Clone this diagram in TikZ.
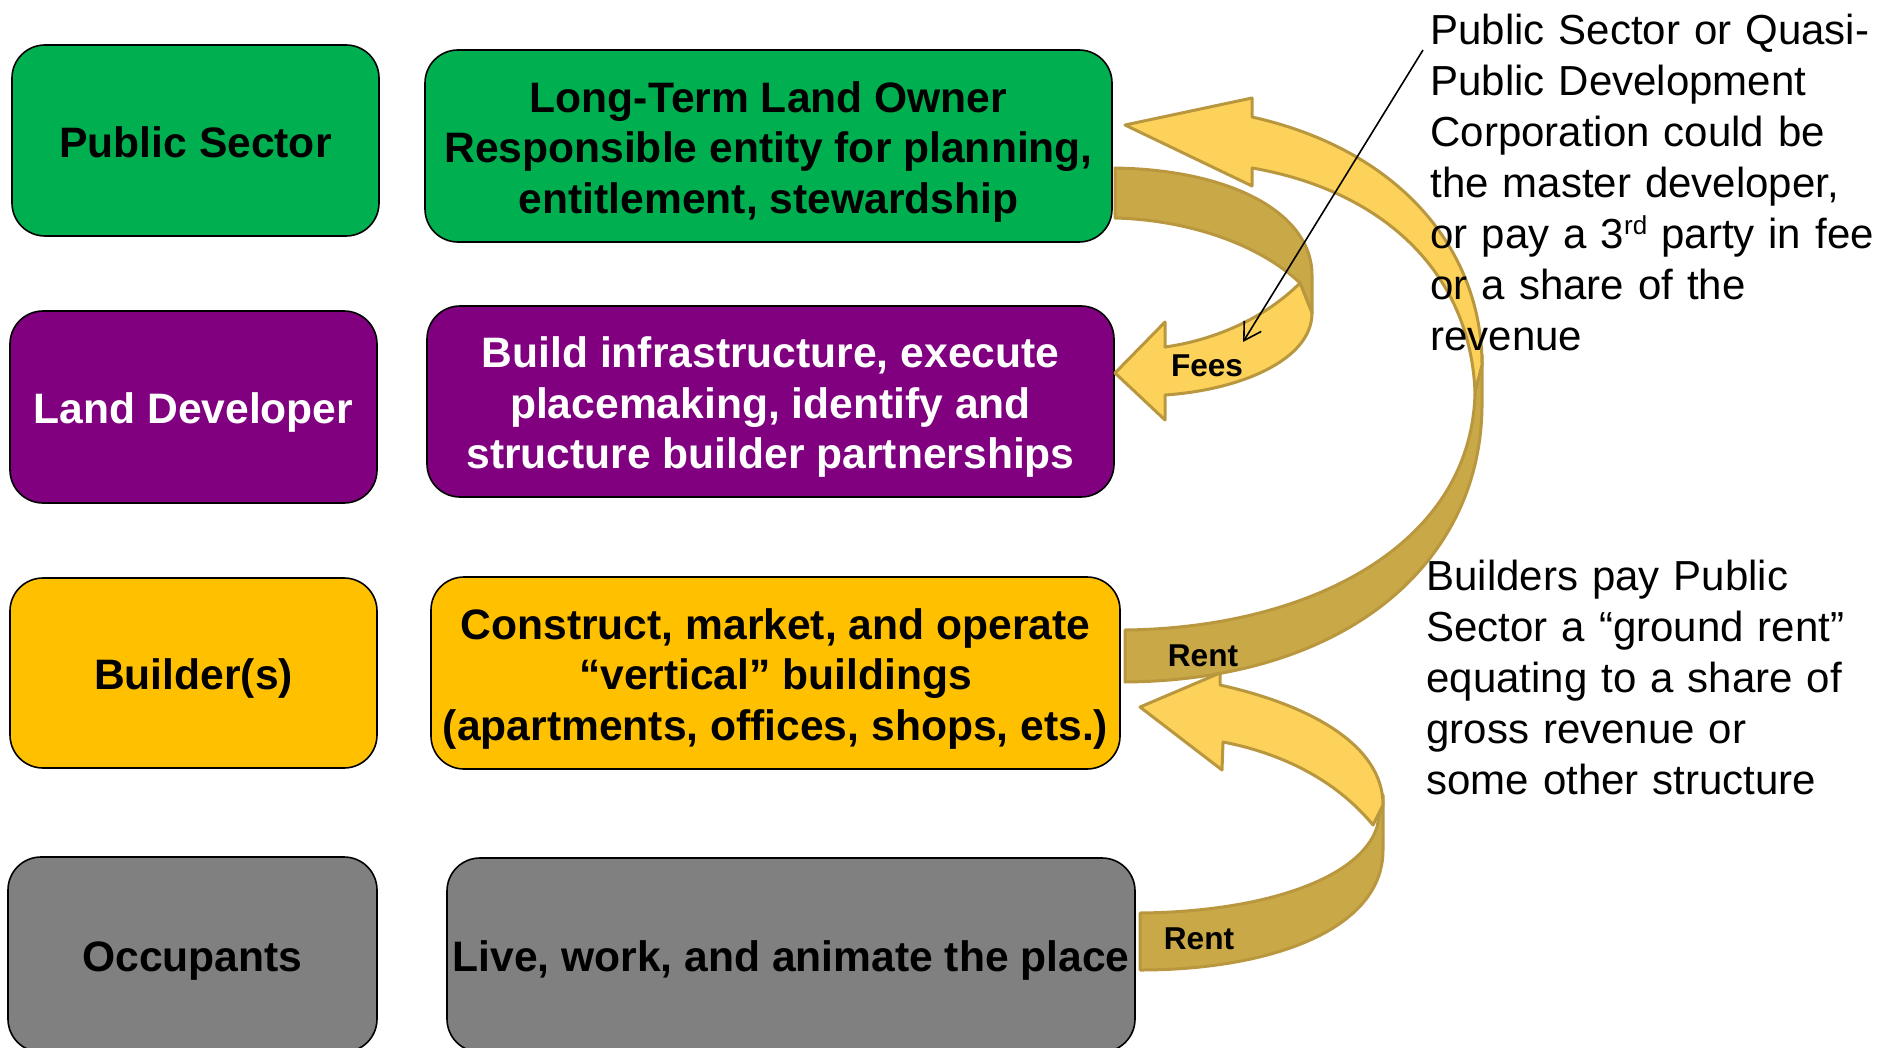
\documentclass[tikz,border=0pt]{standalone}
\usepackage{fontspec}
\setmainfont{Liberation Sans}
\usetikzlibrary{arrows.meta}

\definecolor{psgreen}{HTML}{00B050}
\definecolor{ldpurple}{HTML}{800080}
\definecolor{bsgold}{HTML}{FFC000}
\definecolor{ocgray}{HTML}{808080}
\definecolor{arrowlight}{HTML}{FDD25A}
\definecolor{arrowdark}{HTML}{C9A848}
\definecolor{arrowedge}{HTML}{B9973E}

% three centred lines, baseline on the last one
\newcommand{\stacklines}[1]{\parbox[b]{340pt}{\centering #1}}
% small raised ordinal suffix
\newcommand{\ordsuffix}[1]{\raisebox{0.34em}{\fontsize{13}{13}\selectfont #1}}

\begin{document}
\begin{tikzpicture}[x=0.5pt,y=-0.5pt,
  rolebox/.style={draw=black, line width=0.8pt, rounded corners=16.5pt, inner sep=0pt,
    font=\fontsize{21.3}{25.2}\selectfont\bfseries, text height=21.3pt, text depth=4.5pt},
  threelines/.style={text height=71.7pt},
  bandback/.style={fill=arrowdark, draw=arrowedge, line width=1.5pt, line join=round},
  bandfront/.style={fill=arrowlight, draw=arrowedge, line width=1.5pt, line join=round},
  flowlabel/.style={font=\fontsize{15.8}{18}\selectfont\bfseries, inner sep=0pt},
  note/.style={font=\fontsize{21}{25.5}\selectfont, align=left, text width=240pt,
    inner sep=0pt, anchor=base west}
]
\useasboundingbox (0,0) rectangle (1877,1048);
\clip (0,0) rectangle (1877,1048);

% role boxes (left column) and responsibilities (middle column)
\node[rolebox, fill=psgreen, minimum width=183.5pt, minimum height=95.5pt] (ps) at (195.5,140.5) {Public Sector};
\node[rolebox, threelines, fill=psgreen, minimum width=343.5pt, minimum height=96pt] (lto) at (768.5,146)
  {\stacklines{Long-Term Land Owner\\Responsible entity for planning,\\entitlement, stewardship}};
\node[rolebox, fill=ldpurple, text=white, minimum width=183.5pt, minimum height=96pt] (ld) at (193.5,407) {Land Developer};
\node[rolebox, threelines, fill=ldpurple, text=white, minimum width=343.5pt, minimum height=95.5pt] (bi) at (770.5,401.5)
  {\stacklines{Build infrastructure, execute\\placemaking, identify and\\structure builder partnerships}};
\node[rolebox, fill=bsgold, minimum width=183.5pt, minimum height=95pt] (bs) at (193.5,673) {Builder(s)};
\node[rolebox, threelines, fill=bsgold, minimum width=344.5pt, minimum height=96pt] (cm) at (775.5,673)
  {\stacklines{Construct, market, and operate\\“vertical” buildings\\(apartments, offices, shops, ets.)}};
\node[rolebox, fill=ocgray, minimum width=184.5pt, minimum height=97.5pt] (oc) at (192.5,954.5) {Occupants};
\node[rolebox, fill=ocgray, minimum width=344pt, minimum height=97pt] (lw) at (791,955)
  {Live, work, and animate the place};

% fees: land owner -> land developer
\path[bandback] (1115,168) .. controls (1235,170) and (1312,215) .. (1312,275) -- (1312,313) -- (1300,283)
  .. controls (1260,245) and (1190,220) .. (1115,218) -- cycle;
\path[bandfront] (1300,283) .. controls (1265,318) and (1215,340) .. (1165,347) -- (1165,322) -- (1115,373)
  -- (1165,420) -- (1165,395) .. controls (1240,390) and (1312,360) .. (1312,313) -- cycle;

% ground rent: builders -> land owner
\path[bandback] (1125,630) .. controls (1310,628) and (1472,545) .. (1475,392) -- (1482,355) -- (1482,400)
  .. controls (1484,560) and (1350,680) .. (1125,682) -- cycle;
\path[bandfront] (1125,125) -- (1252,98) -- (1252,117) .. controls (1400,150) and (1482,250) .. (1482,365)
  -- (1475,392) .. controls (1470,270) and (1380,190) .. (1252,168) -- (1252,186) -- cycle;

% rent: occupants -> builders
\path[bandback] (1140,913) .. controls (1260,912) and (1360,880) .. (1377,827) -- (1383,795) -- (1383,850)
  .. controls (1383,930) and (1270,970) .. (1140,970) -- cycle;
\path[bandfront] (1140,707) -- (1220,673) -- (1220,685) .. controls (1310,705) and (1383,745) .. (1383,805)
  -- (1373,825) .. controls (1340,785) and (1290,755) .. (1223,742) -- (1222,770) -- cycle;

\node[flowlabel] (fees) at (1207,366) {Fees};
\node[flowlabel] (rentup) at (1203,656) {Rent};
\node[flowlabel] (rentlow) at (1199,939) {Rent};

% explanatory notes
\node[note] (note1) at (1430,44.4) {Public Sector or Quasi-\\Public Development\\Corporation could be\\the master developer,\\or pay a 3\ordsuffix{rd} party in fee\\or a share of the\\revenue};
\node[note] (note2) at (1426,590) {Builders pay Public\\Sector a “ground rent”\\equating to a share of\\gross revenue or\\some other structure};

\coordinate (callout) at (1423,50);
\coordinate (feesband) at (1243,342);
\draw[line width=0.8pt, -{Straight Barb[length=8.5pt,width=10pt]}] (callout) -- (feesband);
\end{tikzpicture}
\end{document}
